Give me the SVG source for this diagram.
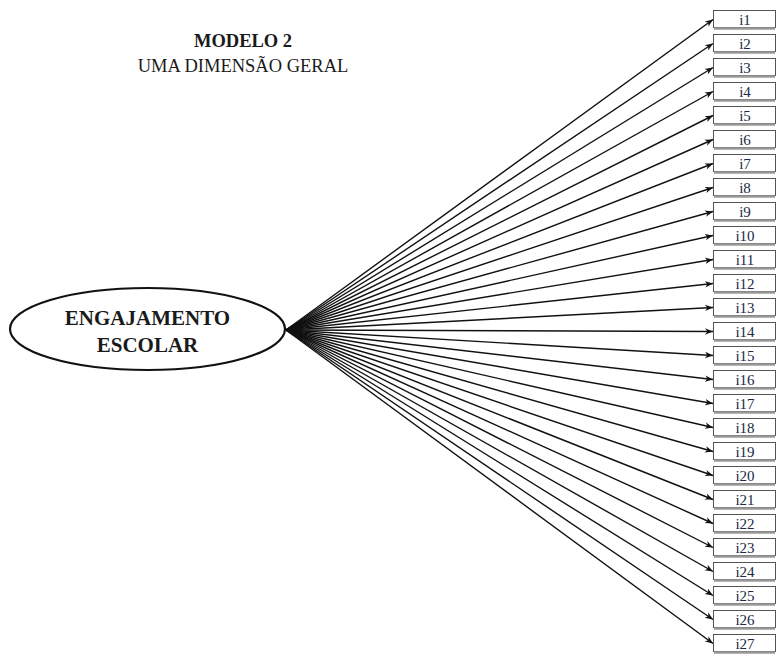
<svg xmlns="http://www.w3.org/2000/svg" width="778" height="655" viewBox="0 0 778 655">
  <style>
    .title { font-family: "Liberation Serif", "Times New Roman", serif; fill: #1a1a1a; text-anchor: middle; }
    .latent { font-family: "Liberation Serif", "Times New Roman", serif; font-weight: bold; font-size: 21px; fill: #1a1a1a; text-anchor: middle; }
    .item rect { fill: #ffffff; stroke: #555555; stroke-width: 1; }
    .item line { stroke: #9a9a9a; stroke-width: 2.5; }
    .item text { font-family: "Liberation Serif", "Times New Roman", serif; font-size: 15px; fill: #1b2a44; text-anchor: middle; }
    .conn line { stroke: #111111; stroke-width: 1.4; marker-end: url(#arrow); }
  </style>
  <defs>
    <marker id="arrow" viewBox="0 0 10 10" refX="10" refY="5" markerWidth="8" markerHeight="8" markerUnits="userSpaceOnUse" orient="auto">
      <path d="M0,1 L10,5 L0,9 L3,5 Z" fill="#111111"/>
    </marker>
  </defs>

  <rect width="778" height="655" fill="#ffffff"/>

  <!-- heading -->
  <g id="heading">
    <text class="title" x="243" y="47" font-size="18.5" font-weight="bold">MODELO 2</text>
    <text class="title" x="243" y="72" font-size="18.5">UMA DIMENSÃO GERAL</text>
  </g>

  <!-- latent factor -->
  <g id="engajamento">
    <ellipse cx="147.5" cy="329" rx="137.5" ry="41" fill="#ffffff" stroke="#111111" stroke-width="2.2"/>
    <text class="latent" x="147.5" y="325">ENGAJAMENTO</text>
    <text class="latent" x="147.5" y="352">ESCOLAR</text>
  </g>

  <!-- loadings: factor -> items -->
  <g id="connectors" class="conn">
    <line x1="286" y1="330" x2="713" y2="19.5"/>
    <line x1="286" y1="330" x2="713" y2="43.5"/>
    <line x1="286" y1="330" x2="713" y2="67.5"/>
    <line x1="286" y1="330" x2="713" y2="91.5"/>
    <line x1="286" y1="330" x2="713" y2="115.5"/>
    <line x1="286" y1="330" x2="713" y2="139.5"/>
    <line x1="286" y1="330" x2="713" y2="163.5"/>
    <line x1="286" y1="330" x2="713" y2="187.5"/>
    <line x1="286" y1="330" x2="713" y2="211.5"/>
    <line x1="286" y1="330" x2="713" y2="235.5"/>
    <line x1="286" y1="330" x2="713" y2="259.5"/>
    <line x1="286" y1="330" x2="713" y2="283.5"/>
    <line x1="286" y1="330" x2="713" y2="307.5"/>
    <line x1="286" y1="330" x2="713" y2="331.5"/>
    <line x1="286" y1="330" x2="713" y2="355.5"/>
    <line x1="286" y1="330" x2="713" y2="379.5"/>
    <line x1="286" y1="330" x2="713" y2="403.5"/>
    <line x1="286" y1="330" x2="713" y2="427.5"/>
    <line x1="286" y1="330" x2="713" y2="451.5"/>
    <line x1="286" y1="330" x2="713" y2="475.5"/>
    <line x1="286" y1="330" x2="713" y2="499.5"/>
    <line x1="286" y1="330" x2="713" y2="523.5"/>
    <line x1="286" y1="330" x2="713" y2="547.5"/>
    <line x1="286" y1="330" x2="713" y2="571.5"/>
    <line x1="286" y1="330" x2="713" y2="595.5"/>
    <line x1="286" y1="330" x2="713" y2="619.5"/>
    <line x1="286" y1="330" x2="713" y2="643.5"/>
  </g>

  <!-- observed items -->
  <g id="i1" class="item"><rect x="713.5" y="10.5" width="62" height="17"/><line x1="714" y1="28.5" x2="775" y2="28.5"/><text x="745" y="24.5">i1</text></g>
  <g id="i2" class="item"><rect x="713.5" y="34.5" width="62" height="17"/><line x1="714" y1="52.5" x2="775" y2="52.5"/><text x="745" y="48.5">i2</text></g>
  <g id="i3" class="item"><rect x="713.5" y="58.5" width="62" height="17"/><line x1="714" y1="76.5" x2="775" y2="76.5"/><text x="745" y="72.5">i3</text></g>
  <g id="i4" class="item"><rect x="713.5" y="82.5" width="62" height="17"/><line x1="714" y1="100.5" x2="775" y2="100.5"/><text x="745" y="96.5">i4</text></g>
  <g id="i5" class="item"><rect x="713.5" y="106.5" width="62" height="17"/><line x1="714" y1="124.5" x2="775" y2="124.5"/><text x="745" y="120.5">i5</text></g>
  <g id="i6" class="item"><rect x="713.5" y="130.5" width="62" height="17"/><line x1="714" y1="148.5" x2="775" y2="148.5"/><text x="745" y="144.5">i6</text></g>
  <g id="i7" class="item"><rect x="713.5" y="154.5" width="62" height="17"/><line x1="714" y1="172.5" x2="775" y2="172.5"/><text x="745" y="168.5">i7</text></g>
  <g id="i8" class="item"><rect x="713.5" y="178.5" width="62" height="17"/><line x1="714" y1="196.5" x2="775" y2="196.5"/><text x="745" y="192.5">i8</text></g>
  <g id="i9" class="item"><rect x="713.5" y="202.5" width="62" height="17"/><line x1="714" y1="220.5" x2="775" y2="220.5"/><text x="745" y="216.5">i9</text></g>
  <g id="i10" class="item"><rect x="713.5" y="226.5" width="62" height="17"/><line x1="714" y1="244.5" x2="775" y2="244.5"/><text x="745" y="240.5">i10</text></g>
  <g id="i11" class="item"><rect x="713.5" y="250.5" width="62" height="17"/><line x1="714" y1="268.5" x2="775" y2="268.5"/><text x="745" y="264.5">i11</text></g>
  <g id="i12" class="item"><rect x="713.5" y="274.5" width="62" height="17"/><line x1="714" y1="292.5" x2="775" y2="292.5"/><text x="745" y="288.5">i12</text></g>
  <g id="i13" class="item"><rect x="713.5" y="298.5" width="62" height="17"/><line x1="714" y1="316.5" x2="775" y2="316.5"/><text x="745" y="312.5">i13</text></g>
  <g id="i14" class="item"><rect x="713.5" y="322.5" width="62" height="17"/><line x1="714" y1="340.5" x2="775" y2="340.5"/><text x="745" y="336.5">i14</text></g>
  <g id="i15" class="item"><rect x="713.5" y="346.5" width="62" height="17"/><line x1="714" y1="364.5" x2="775" y2="364.5"/><text x="745" y="360.5">i15</text></g>
  <g id="i16" class="item"><rect x="713.5" y="370.5" width="62" height="17"/><line x1="714" y1="388.5" x2="775" y2="388.5"/><text x="745" y="384.5">i16</text></g>
  <g id="i17" class="item"><rect x="713.5" y="394.5" width="62" height="17"/><line x1="714" y1="412.5" x2="775" y2="412.5"/><text x="745" y="408.5">i17</text></g>
  <g id="i18" class="item"><rect x="713.5" y="418.5" width="62" height="17"/><line x1="714" y1="436.5" x2="775" y2="436.5"/><text x="745" y="432.5">i18</text></g>
  <g id="i19" class="item"><rect x="713.5" y="442.5" width="62" height="17"/><line x1="714" y1="460.5" x2="775" y2="460.5"/><text x="745" y="456.5">i19</text></g>
  <g id="i20" class="item"><rect x="713.5" y="466.5" width="62" height="17"/><line x1="714" y1="484.5" x2="775" y2="484.5"/><text x="745" y="480.5">i20</text></g>
  <g id="i21" class="item"><rect x="713.5" y="490.5" width="62" height="17"/><line x1="714" y1="508.5" x2="775" y2="508.5"/><text x="745" y="504.5">i21</text></g>
  <g id="i22" class="item"><rect x="713.5" y="514.5" width="62" height="17"/><line x1="714" y1="532.5" x2="775" y2="532.5"/><text x="745" y="528.5">i22</text></g>
  <g id="i23" class="item"><rect x="713.5" y="538.5" width="62" height="17"/><line x1="714" y1="556.5" x2="775" y2="556.5"/><text x="745" y="552.5">i23</text></g>
  <g id="i24" class="item"><rect x="713.5" y="562.5" width="62" height="17"/><line x1="714" y1="580.5" x2="775" y2="580.5"/><text x="745" y="576.5">i24</text></g>
  <g id="i25" class="item"><rect x="713.5" y="586.5" width="62" height="17"/><line x1="714" y1="604.5" x2="775" y2="604.5"/><text x="745" y="600.5">i25</text></g>
  <g id="i26" class="item"><rect x="713.5" y="610.5" width="62" height="17"/><line x1="714" y1="628.5" x2="775" y2="628.5"/><text x="745" y="624.5">i26</text></g>
  <g id="i27" class="item"><rect x="713.5" y="634.5" width="62" height="17"/><line x1="714" y1="652.5" x2="775" y2="652.5"/><text x="745" y="648.5">i27</text></g>
</svg>
